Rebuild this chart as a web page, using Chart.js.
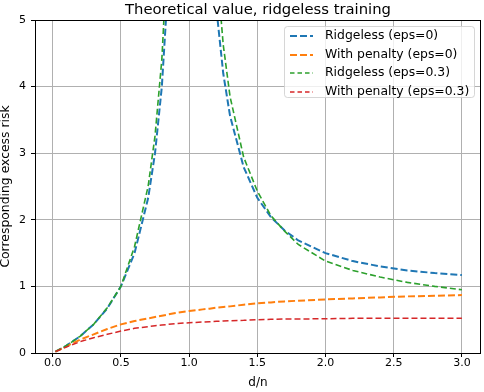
<!DOCTYPE html>
<html><head><meta charset="utf-8">
<script src="https://cdn.jsdelivr.net/npm/chart.js@4"></script>
<style>html,body{margin:0;padding:0;background:#fff}#wrap{width:484px;height:392px}</style>
</head><body><div id="wrap"><canvas id="c"></canvas></div>
<script>
Chart.defaults.font.family = "'DejaVu Sans', sans-serif";
Chart.defaults.color = '#000';

// d/n sample points
const xs = [0.02,0.1,0.2,0.3,0.4,0.5,0.6,0.7,0.75,0.8,0.85,0.9,1.0,1.1,1.15,1.2,1.25,1.3,1.4,1.5,1.6,1.7,1.8,2.0,2.2,2.4,2.6,2.8,3.0];
const ridgeless0 = [0.02,0.11,0.25,0.43,0.67,1.0,1.5,2.33,3.0,4.0,5.67,9.0,null,10.1,6.8,5.17,4.2,3.56,2.79,2.33,2.04,1.84,1.69,1.5,1.38,1.3,1.24,1.2,1.17];
const penalty0 = [0.02,0.10,0.20,0.28,0.36,0.43,0.48,0.52,0.54,0.56,0.58,0.60,0.63,0.655,0.665,0.68,0.69,0.70,0.725,0.745,0.76,0.775,0.785,0.805,0.82,0.835,0.85,0.86,0.87];
const ridgeless03 = [0.02,0.11,0.25,0.43,0.68,1.0,1.6,2.51,3.26,4.41,6.4,11,null,13.4,8.1,5.86,4.63,3.85,2.94,2.43,2.06,1.83,1.63,1.38,1.24,1.14,1.06,1.0,0.95];
const penalty03 = [0.02,0.09,0.17,0.23,0.28,0.33,0.37,0.395,0.41,0.42,0.43,0.44,0.455,0.465,0.47,0.475,0.48,0.485,0.49,0.50,0.505,0.51,0.51,0.515,0.52,0.52,0.52,0.52,0.52];

const seriesNames = ['Ridgeless (eps=0)','With penalty (eps=0)','Ridgeless (eps=0.3)','With penalty (eps=0.3)'];
const xTicks = [0,0.5,1,1.5,2,2.5,3];
const yTicks = [0,1,2,3,4,5];

const pts = ys => xs.map((x,i) => ({x:x, y:ys[i]}));

function ds(label, ys, color, w, dash, order) {
  return {label, data:pts(ys), borderColor:color, borderWidth:w, borderDash:dash,
    pointRadius:0, tension:0, fill:false, spanGaps:false, order, clip:0};
}

const frame = {
  id:'frame',
  afterDatasetsDraw(chart) {
    const {ctx, chartArea:a} = chart;
    ctx.save();
    ctx.strokeStyle = '#000'; ctx.lineWidth = 1;
    ctx.strokeRect(Math.round(a.left)+0.5, Math.round(a.top)+0.5, Math.round(a.right-a.left)-1, Math.round(a.bottom-a.top));
    ctx.restore();
  },
  afterDraw(chart) {
    const {ctx, chartArea:a} = chart;
    ctx.save();
    ctx.font = "14.8px 'DejaVu Sans'";
    ctx.fillStyle = '#000'; ctx.textAlign = 'center'; ctx.textBaseline = 'alphabetic';
    ctx.fillText('Theoretical value, ridgeless training', (a.left+a.right)/2, 13.5);

    // legend
    const bx = 284.5, by = 26.5, bw = 190, bh = 71;
    ctx.beginPath();
    ctx.roundRect(bx, by, bw, bh, 3);
    ctx.fillStyle = 'rgba(255,255,255,0.8)'; ctx.fill();
    ctx.strokeStyle = 'rgba(204,204,204,0.8)'; ctx.lineWidth = 1; ctx.stroke();
    ctx.font = "12.4px 'DejaVu Sans'";
    ctx.textAlign = 'left'; ctx.textBaseline = 'middle';
    const lw = [2,2,1.3,1.3], dashes = [[7,3],[7,3],[4.5,3],[4.5,3]];
    chart.data.datasets.forEach((d,i) => {
      const y = 36 + i*18.5;
      ctx.beginPath();
      ctx.setLineDash(dashes[i]);
      ctx.strokeStyle = d.borderColor; ctx.lineWidth = lw[i];
      ctx.moveTo(290, Math.round(y)); ctx.lineTo(313, Math.round(y)); ctx.stroke();
      ctx.setLineDash([]);
      ctx.fillStyle = '#000';
      ctx.fillText(d.label, 325, y);
    });
    ctx.restore();
  }
};

new Chart(document.getElementById('c'), {
  type:'line',
  data:{datasets:[
    ds(seriesNames[0], ridgeless0, '#1f77b4', 2, [7,3], 4),
    ds(seriesNames[1], penalty0, '#ff7f0e', 2, [7,3], 3),
    ds(seriesNames[2], ridgeless03, '#2ca02c', 1.6, [6,3], 2),
    ds(seriesNames[3], penalty03, '#d62728', 1.5, [6,3], 1)
  ]},
  options:{
    responsive:true, maintainAspectRatio:false, animation:false,
    layout:{padding:{top:20, right:3, left:0, bottom:0}},
    plugins:{legend:{display:false}, tooltip:{enabled:false}},
    scales:{
      x:{type:'linear', min:-0.13, max:3.14,
        afterBuildTicks:s => { s.ticks = xTicks.map(v => ({value:v})); },
        afterFit:s => { s.height = 39; },
        grid:{color:'#b0b0b0', lineWidth:1, tickColor:'#000', tickLength:4},
        border:{display:false},
        ticks:{font:{size:11}, color:'#000', padding:0, maxRotation:0, autoSkip:false, callback:v => v.toFixed(1)},
        title:{display:true, text:'d/n', font:{size:12, lineHeight:1}, color:'#000', padding:{top:3, bottom:3}}
      },
      y:{min:0, max:5,
        afterBuildTicks:s => { s.ticks = yTicks.map(v => ({value:v})); },
        afterFit:s => { s.width = 35; },
        grid:{color:'#b0b0b0', lineWidth:1, tickColor:'#000', tickLength:4},
        border:{display:false},
        ticks:{font:{size:11}, color:'#000', padding:5, autoSkip:false, callback:v => String(v)},
        title:{display:true, text:'Corresponding excess risk', font:{size:12.4, lineHeight:1}, color:'#000', padding:0}
      }
    }
  },
  plugins:[frame]
});
</script></body></html>
